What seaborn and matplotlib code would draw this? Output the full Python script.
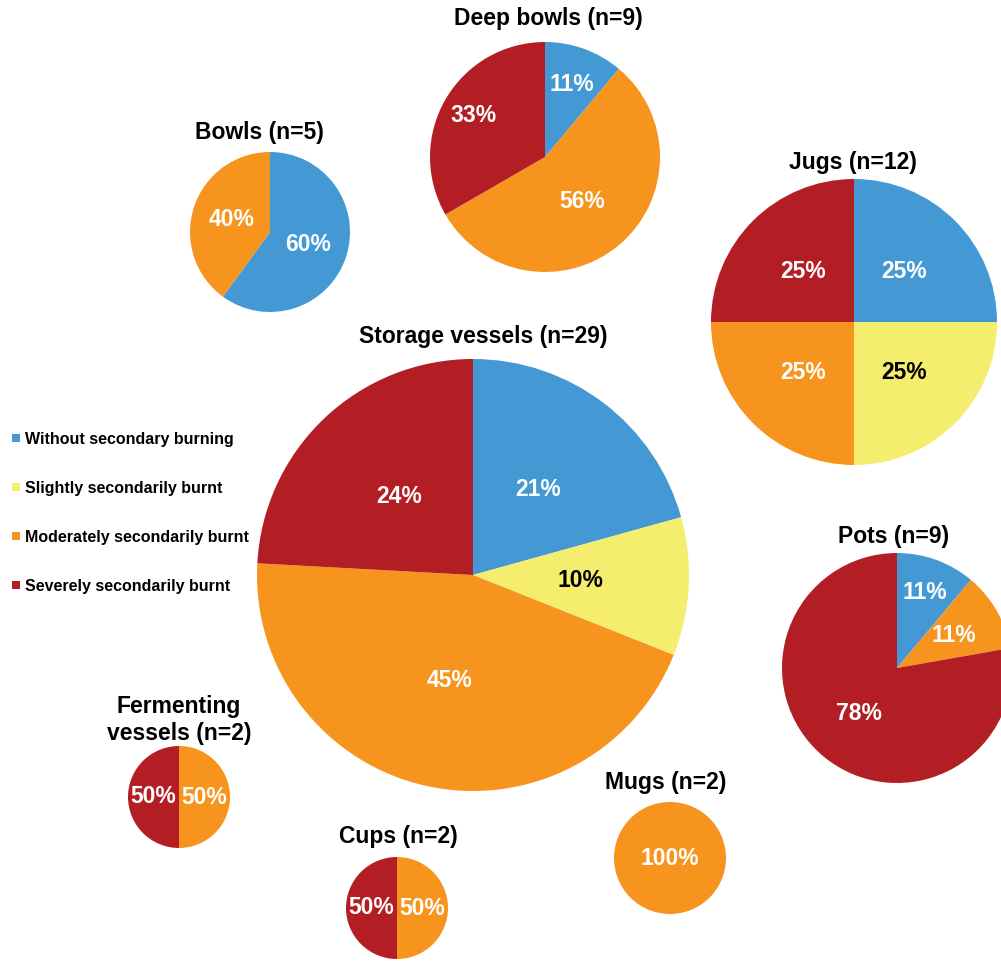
import matplotlib
matplotlib.use("Agg")
import matplotlib.pyplot as plt
from matplotlib.lines import Line2D
import numpy as np
import seaborn as sns

sns.set_style("white")
plt.rcParams['font.family'] = ['Liberation Sans', 'DejaVu Sans']
plt.rcParams['text.color'] = 'black'

# categories (burning degree)
categories = ["Without secondary burning", "Slightly secondarily burnt",
              "Moderately secondarily burnt", "Severely secondarily burnt"]
colors = sns.color_palette(["#4499D4", "#F5ED6D", "#F7941E", "#B31E24"])

# vessel types and counts per category
vessels = ["Storage vessels", "Deep bowls", "Bowls", "Jugs", "Pots",
           "Fermenting\nvessels", "Cups", "Mugs"]
storage = [6, 3, 13, 7]
deep_bowls = [1, 0, 5, 3]
bowls = [3, 0, 2, 0]
jugs = [3, 3, 3, 3]
pots = [1, 0, 1, 7]
fermenting = [0, 0, 1, 1]
cups = [0, 0, 1, 1]
mugs = [0, 0, 2, 0]
counts = [storage, deep_bowls, bowls, jugs, pots, fermenting, cups, mugs]

# layout in pixels: centre x, centre y, radius, title x, title y
W, H = 1001, 963
layout = [
    (473, 575, 216, 483, 337),
    (545, 157, 115, 548, 18),
    (270, 232, 80, 259, 133),
    (854, 322, 143, 853, 162),
    (897, 668, 115, 894, 537),
    (179, 797, 51, 179, 720),
    (397, 908, 51, 398, 836),
    (670, 858, 56, 666, 782),
]
# label distance from centre (fraction of radius) for each slice
label_dist = [
    [0.5, 0.5, 0.5, 0.5],
    [0.67, 0.5, 0.5, 0.72],
    [0.5, 0.5, 0.5, 0.5],
    [0.5, 0.5, 0.5, 0.5],
    [0.7, 0.5, 0.57, 0.52],
    [0.5, 0.5, 0.5, 0.5],
    [0.5, 0.5, 0.5, 0.5],
    [0.0, 0.0, 0.0, 0.0],
]

fig = plt.figure(figsize=(W / 100, H / 100), dpi=100)

for name, vals, (cx, cy, r, tx, ty), dists in zip(vessels, counts, layout, label_dist):
    ax = fig.add_axes([(cx - r) / W, 1 - (cy + r) / H, 2 * r / W, 2 * r / H])
    idx = [i for i, v in enumerate(vals) if v > 0]
    v = [vals[i] for i in idx]
    wedges, _ = ax.pie(v, colors=[colors[i] for i in idx], startangle=90,
                       counterclock=False, radius=1,
                       wedgeprops=dict(linewidth=0))
    total = sum(v)
    for w, i, val in zip(wedges, idx, v):
        mid = np.deg2rad((w.theta1 + w.theta2) / 2)
        d = dists[i]
        ax.text(d * np.cos(mid), d * np.sin(mid), '{:.0f}%'.format(100 * val / total),
                ha='center', va='center', fontsize=16.5, fontweight='bold',
                color='black' if i == 1 else 'white')
    ax.set_xlim(-1, 1)
    ax.set_ylim(-1, 1)
    ax.set_aspect('equal')
    ax.axis('off')
    fig.text(tx / W, 1 - ty / H, '{} (n={})'.format(name, total),
             ha='center', va='center', fontsize=16.5, fontweight='bold',
             linespacing=1.2, color='black')

handles = [Line2D([0], [0], marker='s', linestyle='', markersize=6,
                  markerfacecolor=c, markeredgewidth=0) for c in colors]
fig.legend(handles, categories, loc='upper left', bbox_to_anchor=(6 / W, 1 - 427 / H),
           frameon=False, prop=dict(size=11.5, weight='bold'),
           handlelength=0.6, handletextpad=0.3, labelspacing=2.13,
           borderaxespad=0, borderpad=0.3)

fig.savefig('out.png', dpi=100)
